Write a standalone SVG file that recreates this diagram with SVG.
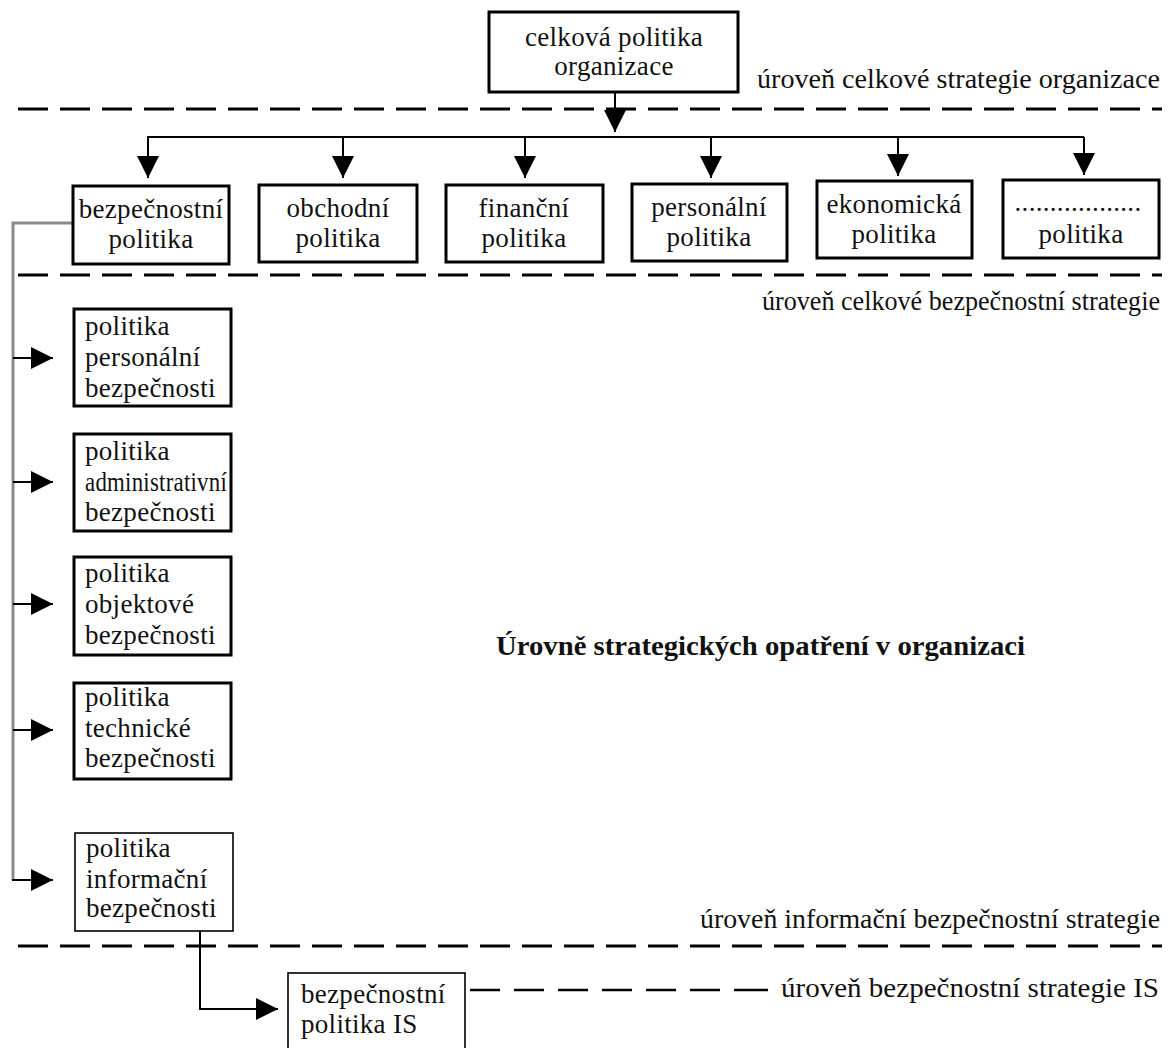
<svg xmlns="http://www.w3.org/2000/svg" width="1175" height="1048" viewBox="0 0 1175 1048">
  <style>
    .box { fill: #fff; stroke: #000; stroke-width: 3; }
    .box-thin { fill: #fff; stroke: #000; stroke-width: 1.6; }
    .t { font-family: "Liberation Serif", "Times New Roman", serif; font-size: 27px; fill: #111; letter-spacing: 0.3px; }
    .lvl { font-family: "Liberation Serif", "Times New Roman", serif; font-size: 28px; fill: #111; }
    .title { font-family: "Liberation Serif", "Times New Roman", serif; font-size: 28px; font-weight: bold; fill: #111; }
    .dash { stroke: #000; stroke-width: 3; stroke-dasharray: 30 12; fill: none; }
    .seg { stroke: #000; stroke-width: 2.5; fill: none; }
    .ln { stroke: #000; stroke-width: 2; fill: none; }
    .spine { stroke: #8a8a8a; stroke-width: 3; fill: none; }
  </style>
  <defs>
    <marker id="arr" markerUnits="userSpaceOnUse" markerWidth="22" markerHeight="22" viewBox="0 0 22 22" refX="22" refY="11" orient="auto">
      <path d="M0,0 L22,11 L0,22 Z" fill="#000"/>
    </marker>
  </defs>

  <rect width="1175" height="1048" fill="#fff"/>

  <!-- level separators and labels -->
  <g id="levels">
    <line class="dash" x1="18" y1="109" x2="1162" y2="109"/>
    <line class="dash" x1="18" y1="275" x2="1162" y2="275"/>
    <line class="dash" x1="18" y1="946" x2="1162" y2="946"/>
    <path class="seg" d="M470,990h30M514,990h30M558,990h30M602,990h30M646,990h30M690,990h30M734,990h34"/>
    <text class="lvl" x="757" y="88" textLength="403" lengthAdjust="spacingAndGlyphs">úroveň celkové strategie organizace</text>
    <text class="lvl" x="762" y="310" font-size="26" textLength="398" lengthAdjust="spacingAndGlyphs">úroveň celkové bezpečnostní strategie</text>
    <text class="lvl" x="700" y="928" textLength="460" lengthAdjust="spacingAndGlyphs">úroveň informační bezpečnostní strategie</text>
    <text class="lvl" x="781" y="997" textLength="378" lengthAdjust="spacingAndGlyphs">úroveň bezpečnostní strategie IS</text>
    <text class="title" x="496" y="655" textLength="529" lengthAdjust="spacingAndGlyphs">Úrovně strategických opatření v organizaci</text>
  </g>

  <!-- connectors -->
  <g id="connectors">
    <line class="ln" x1="615" y1="92" x2="615" y2="132" marker-end="url(#arr)"/>
    <line class="ln" x1="147" y1="137" x2="1084" y2="137"/>
    <line class="ln" x1="148" y1="137" x2="148" y2="178" marker-end="url(#arr)"/>
    <line class="ln" x1="343" y1="137" x2="343" y2="178" marker-end="url(#arr)"/>
    <line class="ln" x1="525" y1="137" x2="525" y2="178" marker-end="url(#arr)"/>
    <line class="ln" x1="711" y1="137" x2="711" y2="178" marker-end="url(#arr)"/>
    <line class="ln" x1="898" y1="137" x2="898" y2="176" marker-end="url(#arr)"/>
    <line class="ln" x1="1084" y1="137" x2="1084" y2="175" marker-end="url(#arr)"/>

    <polyline class="spine" points="73,223 13,223 13,880"/>
    <line class="ln" x1="13" y1="358" x2="53" y2="358" marker-end="url(#arr)"/>
    <line class="ln" x1="13" y1="482" x2="53" y2="482" marker-end="url(#arr)"/>
    <line class="ln" x1="13" y1="604" x2="53" y2="604" marker-end="url(#arr)"/>
    <line class="ln" x1="13" y1="730" x2="53" y2="730" marker-end="url(#arr)"/>
    <line class="ln" x1="12" y1="880" x2="53" y2="880" marker-end="url(#arr)"/>

    <polyline class="ln" points="200,931 200,1009 278,1009" marker-end="url(#arr)"/>
  </g>

  <!-- nodes -->
  <g id="n-celkova">
    <rect class="box" x="489" y="12" width="249" height="80"/>
    <text class="t" x="614" y="46" text-anchor="middle">celková politika</text>
    <text class="t" x="614" y="75" text-anchor="middle">organizace</text>
  </g>

  <g id="n-bezpecnostni">
    <rect class="box" x="73" y="186" width="156" height="78"/>
    <text class="t" x="151" y="218" text-anchor="middle">bezpečnostní</text>
    <text class="t" x="151" y="248" text-anchor="middle">politika</text>
  </g>
  <g id="n-obchodni">
    <rect class="box" x="259" y="185" width="158" height="77"/>
    <text class="t" x="338" y="217" text-anchor="middle">obchodní</text>
    <text class="t" x="338" y="247" text-anchor="middle">politika</text>
  </g>
  <g id="n-financni">
    <rect class="box" x="446" y="185" width="157" height="77"/>
    <text class="t" x="524" y="217" text-anchor="middle">finanční</text>
    <text class="t" x="524" y="247" text-anchor="middle">politika</text>
  </g>
  <g id="n-personalni">
    <rect class="box" x="632" y="184" width="155" height="77"/>
    <text class="t" x="709" y="216" text-anchor="middle">personální</text>
    <text class="t" x="709" y="246" text-anchor="middle">politika</text>
  </g>
  <g id="n-ekonomicka">
    <rect class="box" x="817" y="181" width="155" height="77"/>
    <text class="t" x="894" y="213" text-anchor="middle">ekonomická</text>
    <text class="t" x="894" y="243" text-anchor="middle">politika</text>
  </g>
  <g id="n-dalsi">
    <rect class="box" x="1003" y="180" width="156" height="78"/>
    <text class="t" x="1078" y="211" text-anchor="middle">..................</text>
    <text class="t" x="1081" y="243" text-anchor="middle">politika</text>
  </g>

  <g id="n-personalni-bezp">
    <rect class="box" x="74" y="309" width="157" height="97"/>
    <text class="t" x="85" y="335">politika</text>
    <text class="t" x="85" y="366">personální</text>
    <text class="t" x="85" y="397">bezpečnosti</text>
  </g>
  <g id="n-administrativni-bezp">
    <rect class="box" x="74" y="434" width="157" height="97"/>
    <text class="t" x="85" y="460">politika</text>
    <text class="t" x="85" y="491" textLength="142" lengthAdjust="spacingAndGlyphs">administrativní</text>
    <text class="t" x="85" y="521">bezpečnosti</text>
  </g>
  <g id="n-objektove-bezp">
    <rect class="box" x="74" y="557" width="157" height="98"/>
    <text class="t" x="85" y="582">politika</text>
    <text class="t" x="85" y="613">objektové</text>
    <text class="t" x="85" y="644">bezpečnosti</text>
  </g>
  <g id="n-technicke-bezp">
    <rect class="box" x="74" y="683" width="157" height="96"/>
    <text class="t" x="85" y="706">politika</text>
    <text class="t" x="85" y="737">technické</text>
    <text class="t" x="85" y="767">bezpečnosti</text>
  </g>
  <g id="n-informacni-bezp">
    <rect class="box-thin" x="75" y="833" width="158" height="98"/>
    <text class="t" x="86" y="857">politika</text>
    <text class="t" x="86" y="888">informační</text>
    <text class="t" x="86" y="917">bezpečnosti</text>
  </g>
  <g id="n-bezpecnostni-is">
    <rect class="box-thin" x="288" y="973" width="177" height="84"/>
    <text class="t" x="301" y="1003">bezpečnostní</text>
    <text class="t" x="301" y="1033">politika IS</text>
  </g>
</svg>
